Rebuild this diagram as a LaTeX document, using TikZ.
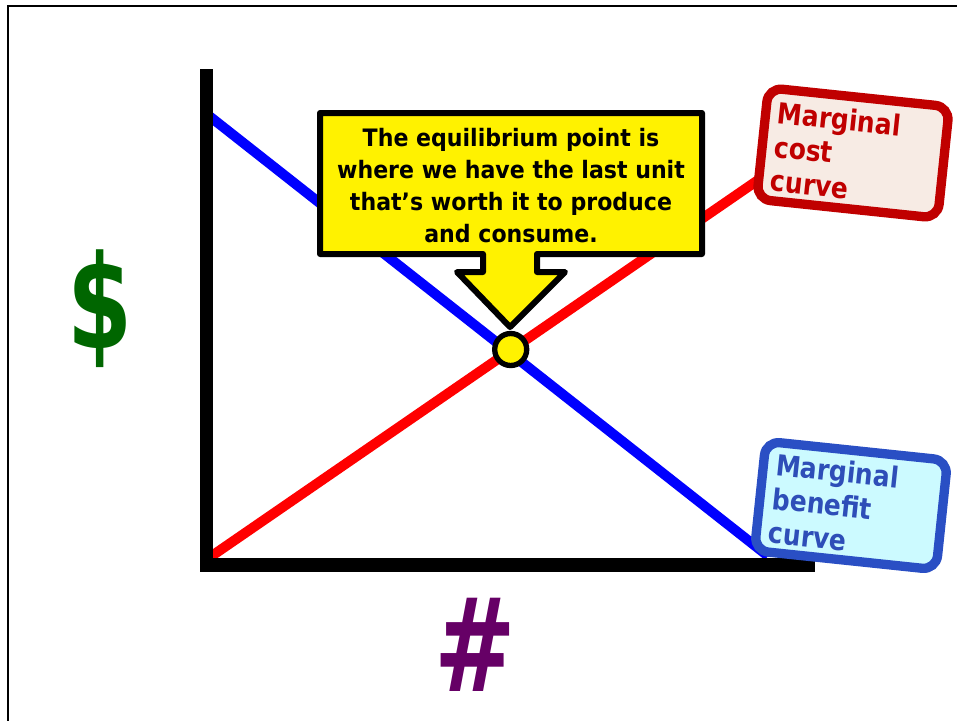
\documentclass[tikz,border=0pt]{standalone}
\usepackage{fontspec}
\newfontfamily\callfont[FakeStretch=0.92]{DejaVu Sans Bold}
\newfontfamily\labfont[FakeStretch=0.86]{DejaVu Sans Bold}
\newfontfamily\bigfont{DejaVu Sans Bold}
\definecolor{costred}{HTML}{C00000}
\definecolor{costfill}{HTML}{F7EBE4}
\definecolor{benblue}{HTML}{2A4FC4}
\definecolor{benfill}{HTML}{CCFAFF}
\definecolor{bentext}{HTML}{2E4EB8}
\definecolor{dollargreen}{HTML}{006600}
\definecolor{hashpurple}{HTML}{660066}
\begin{document}
\begin{tikzpicture}[x=0.75pt,y=-0.75pt,
  frameline/.style={line width=1.5pt},
  axisline/.style={line width=10.1pt, line join=miter},
  mcline/.style={line width=7.5pt, red},
  mbline/.style={line width=7.5pt, blue},
  callout/.style={fill=yellow, draw=black, line width=4.5pt, line join=round},
  calltext/.style={font=\callfont\fontsize{18}{24}\selectfont, align=center, inner sep=0pt, anchor=north},
  eqdot/.style={circle, fill=yellow, draw=black, line width=4pt, minimum size=24pt, inner sep=0pt},
  labelbox/.style={rounded corners=10.5pt, line width=7pt, inner sep=0pt},
  labeltext/.style={font=\labfont\fontsize{21.75}{25.5}\selectfont, align=left, anchor=north west, inner sep=0pt},
  axislabel/.style={font=\bigfont\fontsize{97.5}{100}\selectfont, inner sep=0pt}]
\useasboundingbox (0,0) rectangle (957,721);
% outer frame
\coordinate (fb) at (8,721);
\coordinate (ftl) at (8,6);
\coordinate (ftr) at (957,6);
\draw[frameline] (fb) -- (ftl) -- (ftr);
% curves
\coordinate (mbstart) at (206,113.5);
\coordinate (mbend) at (768,556);
\coordinate (mcstart) at (206,559.9);
\coordinate (mcend) at (765,175.3);
\draw[mbline] (mbstart) -- (mbend);
\draw[mcline] (mcstart) -- (mcend);
% axes
\coordinate (ytop) at (206.5,69);
\coordinate (origin) at (206.5,565);
\coordinate (xend) at (815,565);
\draw[axisline] (ytop) -- (origin) -- (xend);
% callout
\draw[callout] (320,113) -- (702,113) -- (702,254) -- (537,254) -- (537,272)
  -- (565,272) -- (510,327) -- (457,272) -- (483,272) -- (483,254)
  -- (320,254) -- cycle;
\node[calltext] (eqtext) at (511,128) {The equilibrium point is\\where we have the last unit\\that’s worth it to produce\\and consume.};
% equilibrium point
\node[eqdot] (eq) at (510.7,349.5) {};
% cost label
\begin{scope}[shift={(853,153)}, rotate=-6, transform shape]
  \node[labelbox, draw=costred, fill=costfill, minimum width=136.5pt, minimum height=84pt] (costbox) at (0,0) {};
  \node[labeltext, text=costred] (costtext) at (-79,-44) {Marginal\\cost\\curve};
\end{scope}
% benefit label
\begin{scope}[shift={(851,505.5)}, rotate=-6, transform shape]
  \node[labelbox, draw=benblue, fill=benfill, minimum width=137pt, minimum height=82.5pt] (benbox) at (0,0) {};
  \node[labeltext, text=bentext] (bentext) at (-79,-44.5) {Marginal\\benefit\\curve};
\end{scope}
% axis labels
\node[axislabel, text=dollargreen] (dollar) at (100,309) {\scalebox{0.72}[1]{\$}};
\node[axislabel, text=hashpurple] (hash) at (475,645) {\scalebox{0.75}[1]{\#}};
\end{tikzpicture}
\end{document}
